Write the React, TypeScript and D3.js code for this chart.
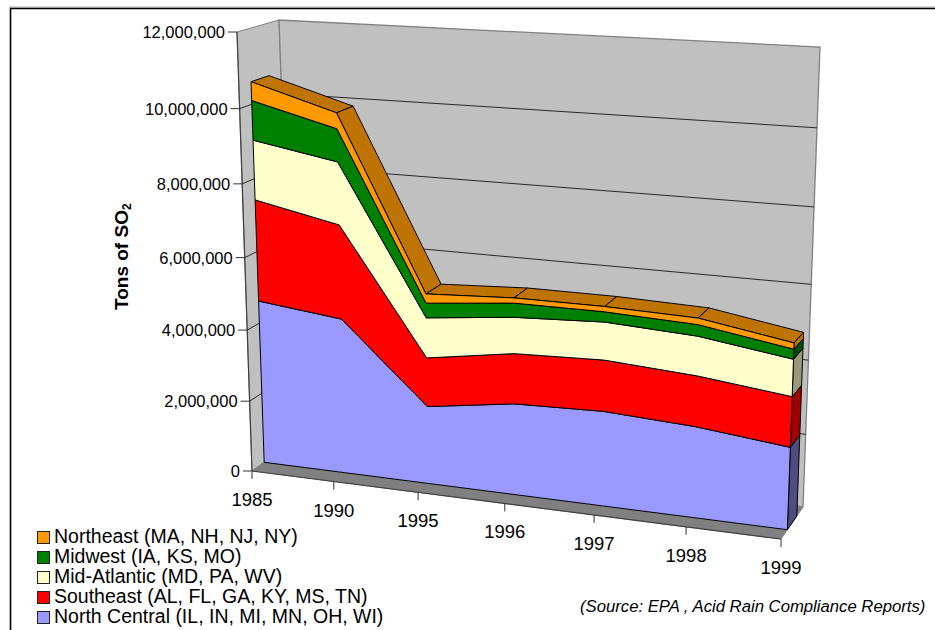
import React from "react";
import * as d3 from "d3";

const years = ["1985", "1990", "1995", "1996", "1997", "1998", "1999"];
const northCentral = [4.62, 4.35, 2.17, 2.52, 2.59, 2.46, 2.2].map((v) => v * 1e6);
const southeast = [2.8, 2.58, 1.35, 1.37, 1.38, 1.35, 1.33].map((v) => v * 1e6);
const midAtlantic = [1.62, 1.69, 1.1, 0.98, 1.01, 1.04, 0.97].map((v) => v * 1e6);
const midwest = [1.06, 0.88, 0.4, 0.38, 0.27, 0.3, 0.26].map((v) => v * 1e6);
const northeast = [0.5, 0.42, 0.25, 0.14, 0.14, 0.17, 0.16].map((v) => v * 1e6);
const yTicks = [0, 2e6, 4e6, 6e6, 8e6, 10e6, 12e6];

const seriesNames = ["North Central (IL, IN, MI, MN, OH, WI)", "Southeast (AL, FL, GA, KY, MS, TN)", "Mid-Atlantic (MD, PA, WV)", "Midwest (IA, KS, MO)", "Northeast (MA, NH, NJ, NY)"];
const seriesValues = [northCentral, southeast, midAtlantic, midwest, northeast];
const fills = ["#9999FF", "#FF0000", "#FFFFCC", "#008000", "#FF9900"];
const sideFills = ["#4D4D80", "#A00000", "#99997A", "#004D00", "#BF7300"];
const topFill = "#BF7300";

type P = [number, number];
// homography from unit square
function homography(bl: P, br: P, tr: P, tl: P) {
  const [x0, y0] = bl, [x1, y1] = br, [x2, y2] = tr, [x3, y3] = tl;
  const dx1 = x1 - x2, dx2 = x3 - x2, sx = x0 - x1 + x2 - x3;
  const dy1 = y1 - y2, dy2 = y3 - y2, sy = y0 - y1 + y2 - y3;
  const det = dx1 * dy2 - dx2 * dy1;
  const g = (sx * dy2 - dx2 * sy) / det;
  const h = (dx1 * sy - sx * dy1) / det;
  const a = x1 - x0 + g * x1, b = x3 - x0 + h * x3, c = x0;
  const d = y1 - y0 + g * y1, e = y3 - y0 + h * y3, f = y0;
  return (u: number, v: number): P => {
    const w = g * u + h * v + 1;
    return [(a * u + b * v + c) / w, (d * u + e * v + f) / w];
  };
}

const front = homography([252, 471], [781, 539], [798, 61], [237, 32]);
const back = homography([294, 441], [803, 507], [820, 47], [279, 20]);
const xS = d3.scalePoint<number>().domain(d3.range(years.length)).range([0, 1]);
const yS = d3.scaleLinear().domain([0, 12e6]).range([0, 1]);
const Z_FRONT = 0.29, Z_BACK = 0.72;
const project = (i: number, val: number, z: number): P => {
  const a = front(xS(i)!, yS(val));
  const b = back(xS(i)!, yS(val));
  return [a[0] + (b[0] - a[0]) * z, a[1] + (b[1] - a[1]) * z];
};
const poly = (pts: P[]) => d3.line()(pts)! + "Z";
const seg = (a: P, b: P) => d3.line()([a, b])!;

const stacked = d3.stack<number>().keys(d3.range(5).map(String)).value((i, k) => seriesValues[+k][i])(d3.range(7));
const last = years.length - 1;
const idx = d3.range(years.length);
const font = "'Liberation Sans', Arial, sans-serif";
const fmt = d3.format(",");

export default function App() {
  return (
    <svg width={935} height={630} style={{ position: "absolute", left: 0, top: 0, fontFamily: font }}>
      <rect x={0} y={0} width={935} height={630} fill="#fff" />
      <path d="M9,7H935" fill="none" stroke="#aaa" strokeWidth={1} />
      <path d="M10.5,630V8.5H935" fill="none" stroke="#000" strokeWidth={1.6} />
      {/* walls */}
      <path d={poly([project(0, 0, 0), project(0, 12e6, 0), project(0, 12e6, 1), project(0, 0, 1)])} fill="#C0C0C0" stroke="#808080" />
      <path d={poly([project(0, 0, 1), project(0, 12e6, 1), project(last, 12e6, 1), project(last, 0, 1)])} fill="#C0C0C0" stroke="#808080" strokeWidth={1.3} />
      <path d={poly([project(0, 0, 0), project(last, 0, 0), project(last, 0, 1), project(0, 0, 1)])} fill="#808080" stroke="#808080" />
      <path d={seg(project(0, 0, 0), project(0, 12e6, 0))} stroke="#404040" strokeWidth={1.2} fill="none" />
      <path d={seg(project(0, 0, 0), project(last, 0, 0))} stroke="#404040" strokeWidth={1.2} fill="none" />
      {/* gridlines */}
      {yTicks.slice(1, 6).map((t) => (
        <path key={t} d={d3.line()([project(0, t, 0), project(0, t, 1), project(last, t, 1)])!} fill="none" stroke="#000" strokeWidth={0.8} />
      ))}
      {/* y axis */}
      {yTicks.map((t) => {
        const [x, y] = project(0, t, 0);
        return (
          <g key={t}>
            <line x1={x - 9} x2={x} y1={y} y2={y} stroke="#333" />
            <text x={x - 12} y={y + 6} textAnchor="end" fontSize={16.5} fill="#000">{fmt(t)}</text>
          </g>
        );
      })}
      {/* x axis */}
      {years.map((yr, i) => {
        const [x, y] = project(i, 0, 0);
        return (
          <g key={yr}>
            <line x1={x} x2={x} y1={y} y2={y + 8} stroke="#333" />
            <text x={x} y={y + 35} textAnchor="middle" fontSize={18.5} fill="#000">{yr}</text>
          </g>
        );
      })}
      {/* area top face */}
      {idx.slice(0, -1).map((i) => {
        const top = stacked[4];
        return (
          <path key={i} d={poly([project(i, top[i][1], Z_FRONT), project(i + 1, top[i + 1][1], Z_FRONT), project(i + 1, top[i + 1][1], Z_BACK), project(i, top[i][1], Z_BACK)])} fill={topFill} stroke="#000" strokeWidth={1} strokeLinejoin="round" />
        );
      })}
      {/* right side faces */}
      {stacked.map((s, k) => (
        <path key={k} d={poly([project(last, s[last][0], Z_FRONT), project(last, s[last][1], Z_FRONT), project(last, s[last][1], Z_BACK), project(last, s[last][0], Z_BACK)])} fill={sideFills[k]} stroke="#000" strokeWidth={1} strokeLinejoin="round" />
      ))}
      {/* front faces */}
      {stacked.map((s, k) => {
        const upper = idx.map((i) => project(i, s[i][1], Z_FRONT));
        const lower = idx.map((i) => project(i, s[i][0], Z_FRONT)).reverse();
        return <path key={k} d={poly([...upper, ...lower])} fill={fills[k]} stroke="#000" strokeWidth={1} strokeLinejoin="round" />;
      })}
      {/* axis title */}
      <text transform="translate(128,310) rotate(-90)" fontSize={19} fontWeight="bold" fill="#000">
        Tons of SO<tspan fontSize={12} dy={3}>2</tspan>
      </text>
      {/* legend */}
      {d3.range(5).map((j) => {
        const k = 4 - j;
        const y = 537 + j * 20;
        return (
          <g key={k}>
            <rect x={37.5} y={y - 5.5} width={12} height={12} fill={fills[k]} stroke="#222" />
            <text x={54} y={y + 6} fontSize={19.5} fill="#000">{seriesNames[k]}</text>
          </g>
        );
      })}
      <text x={580} y={612} fontSize={16.7} fontStyle="italic" fill="#000">(Source: EPA , Acid Rain Compliance Reports)</text>
    </svg>
  );
}
